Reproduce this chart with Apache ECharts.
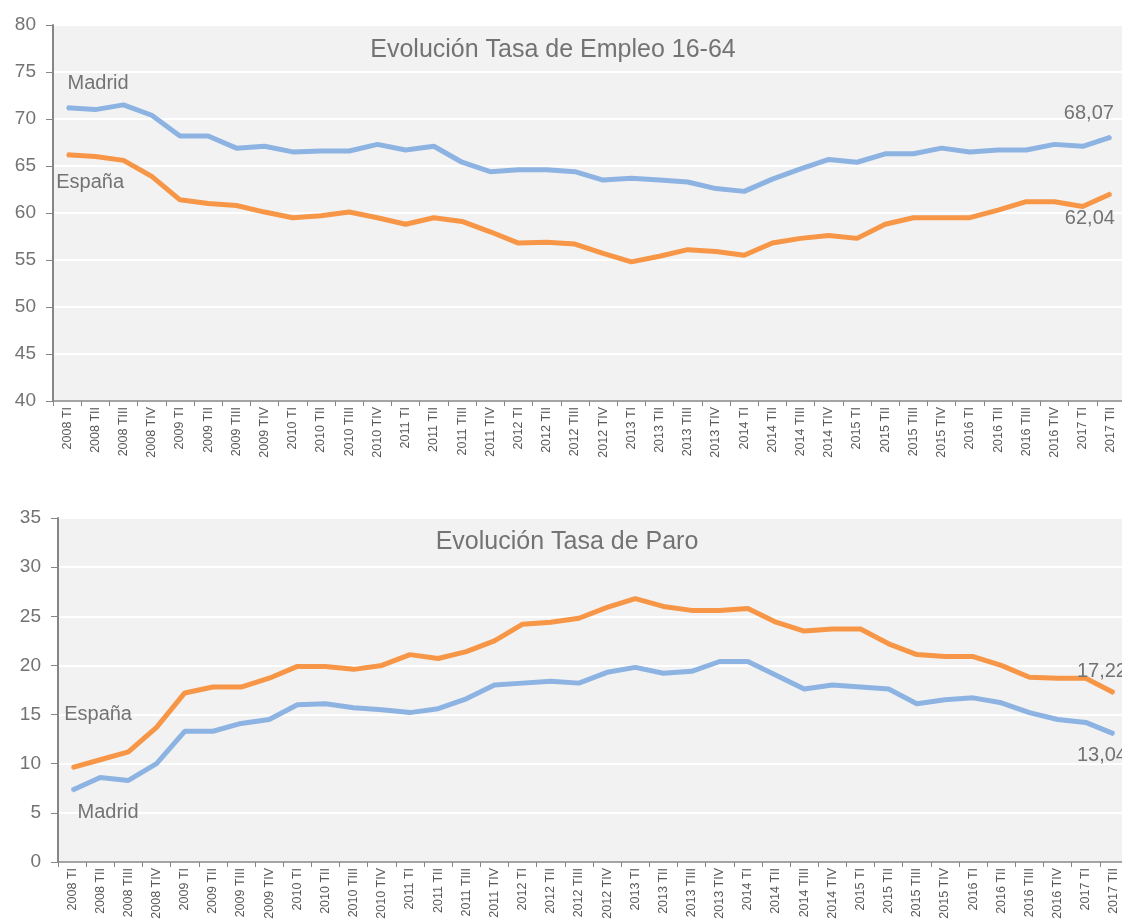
<!DOCTYPE html>
<html>
<head>
<meta charset="utf-8">
<script src="https://cdn.jsdelivr.net/npm/echarts@6/dist/echarts.min.js"></script>
<style>
  html, body { margin: 0; padding: 0; background: #fff; }
  #chart { width: 1122px; height: 919px; }
</style>
</head>
<body>
<div id="chart"></div>
<script>
// trimestres
const quarters = [
  '2008 TI', '2008 TII', '2008 TIII', '2008 TIV',
  '2009 TI', '2009 TII', '2009 TIII', '2009 TIV',
  '2010 TI', '2010 TII', '2010 TIII', '2010 TIV',
  '2011 TI', '2011 TII', '2011 TIII', '2011 TIV',
  '2012 TI', '2012 TII', '2012 TIII', '2012 TIV',
  '2013 TI', '2013 TII', '2013 TIII', '2013 TIV',
  '2014 TI', '2014 TII', '2014 TIII', '2014 TIV',
  '2015 TI', '2015 TII', '2015 TIII', '2015 TIV',
  '2016 TI', '2016 TII', '2016 TIII', '2016 TIV',
  '2017 TI', '2017 TII'
];

// Tasa de empleo 16-64
const empleoMadrid = [
  71.2, 71.0, 71.5, 70.4, 68.2, 68.2, 66.9, 67.1, 66.5, 66.6, 66.6, 67.3,
  66.7, 67.1, 65.4, 64.4, 64.6, 64.6, 64.4, 63.5, 63.7, 63.5, 63.3, 62.6,
  62.3, 63.6, 64.7, 65.7, 65.4, 66.3, 66.3, 66.9, 66.5, 66.7, 66.7, 67.3,
  67.1, 68.07
];
const empleoEspana = [
  66.2, 66.0, 65.6, 63.9, 61.4, 61.0, 60.8, 60.1, 59.5, 59.7, 60.1, 59.5,
  58.8, 59.5, 59.1, 58.0, 56.8, 56.9, 56.7, 55.7, 54.8, 55.4, 56.1, 55.9,
  55.5, 56.8, 57.3, 57.6, 57.3, 58.8, 59.5, 59.5, 59.5, 60.3, 61.2, 61.2,
  60.7, 62.04
];

// Tasa de paro
const paroEspana = [
  9.6, 10.4, 11.2, 13.7, 17.2, 17.8, 17.8, 18.7, 19.9, 19.9, 19.6, 20.0,
  21.1, 20.7, 21.4, 22.5, 24.2, 24.4, 24.8, 25.9, 26.8, 26.0, 25.6, 25.6,
  25.8, 24.4, 23.5, 23.7, 23.7, 22.2, 21.1, 20.9, 20.9, 20.0, 18.8, 18.7,
  18.7, 17.22
];
const paroMadrid = [
  7.3, 8.6, 8.3, 10.0, 13.3, 13.3, 14.1, 14.5, 16.0, 16.1, 15.7, 15.5,
  15.2, 15.6, 16.6, 18.0, 18.2, 18.4, 18.2, 19.3, 19.8, 19.2, 19.4, 20.4,
  20.4, 19.0, 17.6, 18.0, 17.8, 17.6, 16.1, 16.5, 16.7, 16.2, 15.2, 14.5,
  14.2, 13.04
];

const titles = ['Evolución Tasa de Empleo 16-64', 'Evolución Tasa de Paro'];

const BLUE = '#8db3e2';
const ORANGE = '#f79646';
const TEXT = '#737373';
const AXIS = '#868686';
const FONT = '"Liberation Sans", Arial, sans-serif';

const chart = echarts.init(document.getElementById('chart'));

// etiqueta de serie en el primer punto y valor en el último
const labelled = (values, name, firstOffset, lastOffset) => values.map((v, i) => {
  const base = { show: true, position: 'inside', align: 'center', verticalAlign: 'middle',
    color: TEXT, fontSize: 20, fontFamily: FONT };
  if (i === 0) {
    return { value: v, label: Object.assign({}, base, { formatter: name, offset: firstOffset }) };
  }
  if (i === values.length - 1) {
    return { value: v, label: Object.assign({}, base, {
      formatter: (p) => String(p.value).replace('.', ','), offset: lastOffset }) };
  }
  return v;
});

const xAxisBase = (gridIndex) => ({
  gridIndex,
  type: 'category',
  data: quarters,
  boundaryGap: true,
  axisLine: { show: true, lineStyle: { color: AXIS, width: 1.5 } },
  axisTick: { show: true, length: 5, lineStyle: { color: AXIS } },
  axisLabel: { rotate: 90, interval: 0, fontSize: 12.5, color: '#595959', margin: 6, fontFamily: FONT },
  splitLine: { show: false }
});

const yAxisBase = (gridIndex, min, max) => ({
  gridIndex,
  type: 'value',
  min, max, interval: 5,
  axisLine: { show: true, lineStyle: { color: AXIS, width: 2 } },
  axisTick: { show: true, length: 7, lineStyle: { color: AXIS } },
  axisLabel: { fontSize: 19, color: TEXT, margin: 17, fontFamily: FONT },
  splitLine: { show: true, lineStyle: { color: '#ffffff', width: 2 } }
});

const lineBase = {
  type: 'line',
  symbol: 'circle',
  symbolSize: 2,
  smooth: false,
  lineStyle: { width: 5 },
  label: { show: false },
  emphasis: { disabled: true },
  animation: false
};

const option = {
  backgroundColor: '#ffffff',
  animation: false,
  title: [
    { text: titles[0], left: 553, top: 38, textAlign: 'center', padding: 0,
      textStyle: { fontSize: 25, fontWeight: 'normal', color: TEXT, fontFamily: FONT } },
    { text: titles[1], left: 567, top: 530, textAlign: 'center', padding: 0,
      textStyle: { fontSize: 25, fontWeight: 'normal', color: TEXT, fontFamily: FONT } }
  ],
  grid: [
    { left: 53, top: 25, width: 1072, height: 376, outerBoundsMode: 'none', containLabel: false,
      show: true, backgroundColor: '#f2f2f2', borderWidth: 0 },
    { left: 58, top: 518, width: 1070, height: 344, outerBoundsMode: 'none', containLabel: false,
      show: true, backgroundColor: '#f2f2f2', borderWidth: 0 }
  ],
  xAxis: [xAxisBase(0), xAxisBase(1)],
  yAxis: [yAxisBase(0, 40, 80), yAxisBase(1, 0, 35)],
  series: [
    Object.assign({}, lineBase, { name: 'Madrid', xAxisIndex: 0, yAxisIndex: 0,
      itemStyle: { color: BLUE }, lineStyle: { width: 5, color: BLUE },
      data: labelled(empleoMadrid, 'Madrid', [31, -24], [-22, -24]) }),
    Object.assign({}, lineBase, { name: 'España', xAxisIndex: 0, yAxisIndex: 0,
      itemStyle: { color: ORANGE }, lineStyle: { width: 5, color: ORANGE },
      data: labelled(empleoEspana, 'España', [23, 28], [-21, 25]) }),
    Object.assign({}, lineBase, { name: 'España', xAxisIndex: 1, yAxisIndex: 1,
      itemStyle: { color: ORANGE }, lineStyle: { width: 5, color: ORANGE },
      data: labelled(paroEspana, 'España', [26, -53], [-12, -21]) }),
    Object.assign({}, lineBase, { name: 'Madrid', xAxisIndex: 1, yAxisIndex: 1,
      itemStyle: { color: BLUE }, lineStyle: { width: 5, color: BLUE },
      data: labelled(paroMadrid, 'Madrid', [36, 22], [-12, 22]) })
  ]
};

chart.setOption(option);
</script>
</body>
</html>
